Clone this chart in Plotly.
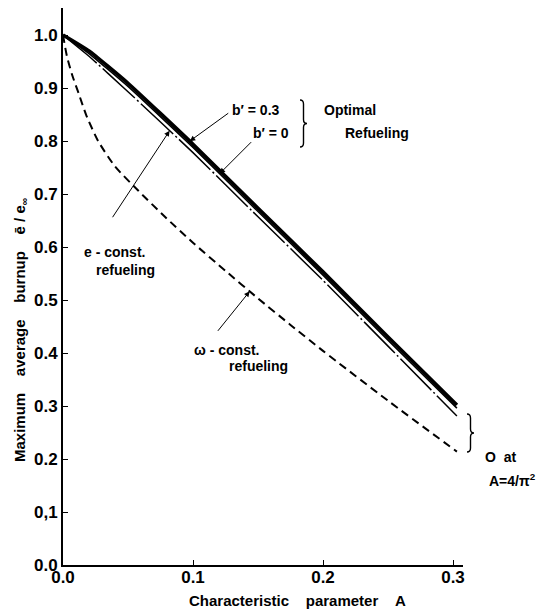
import numpy as np
import plotly.graph_objects as go

# Characteristic parameter A (abscissa) for each curve
A_opt = [0.0, 0.02, 0.05, 0.10, 0.15, 0.20, 0.25, 0.303]
A_w = [0.0, 0.003, 0.007, 0.012, 0.018, 0.027, 0.04, 0.058, 0.078,
       0.10, 0.125, 0.15, 0.175, 0.20, 0.25, 0.303]

# Maximum average burnup e_bar / e_inf
burnup_b03 = [1.0, 0.970, 0.909, 0.794, 0.673, 0.553, 0.430, 0.302]   # optimal, b' = 0.3
burnup_b0 = [1.0, 0.965, 0.903, 0.788, 0.667, 0.547, 0.424, 0.296]    # optimal, b' = 0
burnup_e = [1.0, 0.960, 0.893, 0.778, 0.657, 0.537, 0.413, 0.281]     # e-const. refueling
burnup_w = [1.0, 0.960, 0.925, 0.890, 0.848, 0.800, 0.752, 0.706, 0.658,
            0.608, 0.555, 0.503, 0.453, 0.404, 0.310, 0.214]          # omega-const. refueling

x_ticks = [0.0, 0.1, 0.2, 0.3]
x_tick_text = ["0.0", "0.1", "0.2", "0.3"]
y_ticks = [0.0, 0.1, 0.2, 0.3, 0.4, 0.5, 0.6, 0.7, 0.8, 0.9, 1.0]
y_tick_text = ["0.0", "0,1", "0.2", "0.3", "0.4", "0.5", "0.6", "0.7", "0.8", "0.9", "1.0"]

W, H = 544, 609
ML, MR, MT, MB = 63, 81, 8, 44
PW, PH = W - ML - MR, H - MT - MB
FONT = "Liberation Sans"


def paper(px, py):
    """Page pixel position -> paper coordinates."""
    return (px - ML) / PW, (H - MB - py) / PH


fig = go.Figure()

fig.add_trace(go.Scatter(x=A_w, y=burnup_w, mode="lines",
                         line=dict(color="black", width=2, dash="8px,5px",
                                   shape="spline", smoothing=0.6),
                         showlegend=False, hoverinfo="skip"))
fig.add_trace(go.Scatter(x=A_opt, y=burnup_e, mode="lines",
                         line=dict(color="black", width=1.5, dash="44px,3px,2px,3px",
                                   shape="spline", smoothing=0.4),
                         showlegend=False, hoverinfo="skip"))
fig.add_trace(go.Scatter(x=A_opt, y=burnup_b0, mode="lines",
                         line=dict(color="black", width=1.6, shape="spline", smoothing=0.4),
                         showlegend=False, hoverinfo="skip"))
fig.add_trace(go.Scatter(x=A_opt, y=burnup_b03, mode="lines",
                         line=dict(color="black", width=3.6, shape="spline", smoothing=0.4),
                         showlegend=False, hoverinfo="skip"))

ann = []


def text(px, py, s, size=14, xanchor="center"):
    x, y = paper(px, py)
    ann.append(dict(x=x, y=y, xref="paper", yref="paper", text=s, showarrow=False,
                    xanchor=xanchor, yanchor="middle",
                    font=dict(family=FONT, size=size, color="black", weight="bold")))


def arrow(a, series_a, series_y, ax, ay):
    yv = float(np.interp(a, series_a, series_y))
    ann.append(dict(x=a, y=yv, xref="x", yref="y", text="", showarrow=True,
                    ax=ax, ay=ay, axref="pixel", ayref="pixel",
                    arrowhead=2, arrowsize=1.1, arrowwidth=1, arrowcolor="black",
                    standoff=0))


# curve labels
text(256, 110, "b\u2032 = 0.3")
text(271, 133, "b\u2032 = 0")
text(350, 110, "Optimal")
text(377, 133, "Refueling")
text(114, 252, "e - const.")
text(125, 270, "refueling")
text(227, 350, "\u03c9 - const.")
text(258, 366, "refueling")
text(500, 457, "O  at")
text(512, 480, "A=4/\u03c0<sup>2</sup>")

arrow(0.0975, A_opt, burnup_b03, 40, -29)
arrow(0.1205, A_opt, burnup_b0, 33, -33)
arrow(0.082, A_opt, burnup_e, -58, 88)
arrow(0.1436, A_w, burnup_w, -33, 41)

# axis titles
tx, ty = paper(297, 600)
ann.append(dict(x=tx, y=ty, xref="paper", yref="paper", showarrow=False,
                xanchor="center", yanchor="middle",
                text="Characteristic\u00a0\u00a0\u00a0\u00a0parameter\u00a0\u00a0\u00a0\u00a0A",
                font=dict(family=FONT, size=15, color="black", weight="bold")))
yx, yy = paper(20, 330)
ann.append(dict(x=yx, y=yy, xref="paper", yref="paper", showarrow=False, textangle=-90,
                xanchor="center", yanchor="middle",
                text="Maximum\u00a0\u00a0\u00a0\u00a0average\u00a0\u00a0\u00a0\u00a0burnup"
                     "\u00a0\u00a0\u00a0\u00a0\u0113\u00a0/\u00a0e<sub>\u221e</sub>",
                font=dict(family=FONT, size=15, color="black", weight="bold")))


def brace(x0, yt, yb, w=7, r=4):
    """Right-facing curly brace path in paper coordinates."""
    ym = (yt + yb) / 2
    xm = x0 + w / 2
    pts = [("M", [(x0, yt)]),
           ("Q", [(xm, yt), (xm, yt + r)]),
           ("L", [(xm, ym - r)]),
           ("Q", [(xm, ym), (x0 + w, ym)]),
           ("Q", [(xm, ym), (xm, ym + r)]),
           ("L", [(xm, yb - r)]),
           ("Q", [(xm, yb), (x0, yb)])]
    parts = []
    for cmd, pp in pts:
        coords = " ".join("{:.5f},{:.5f}".format(*paper(px, py)) for px, py in pp)
        parts.append(cmd + " " + coords)
    return dict(type="path", xref="paper", yref="paper", path=" ".join(parts),
                line=dict(color="black", width=1.4))


shapes = [brace(300, 100, 147), brace(467, 414, 452)]

axis_common = dict(showline=True, linecolor="black", linewidth=2, mirror=False,
                   showgrid=False, zeroline=False, ticks="inside", ticklen=5,
                   tickwidth=1.2, tickcolor="black",
                   tickfont=dict(family=FONT, size=17, color="black", weight="bold"))

fig.update_layout(
    width=W, height=H,
    margin=dict(l=ML, r=MR, t=MT, b=MB, pad=0),
    paper_bgcolor="white", plot_bgcolor="white",
    xaxis=dict(range=[0, PW / 1300], tickvals=x_ticks, ticktext=x_tick_text,
               ticklabelstandoff=-4, **axis_common),
    yaxis=dict(range=[0, PH / 530], tickvals=y_ticks, ticktext=y_tick_text,
               **axis_common),
    annotations=ann, shapes=shapes,
)

fig.write_html("out.html")
